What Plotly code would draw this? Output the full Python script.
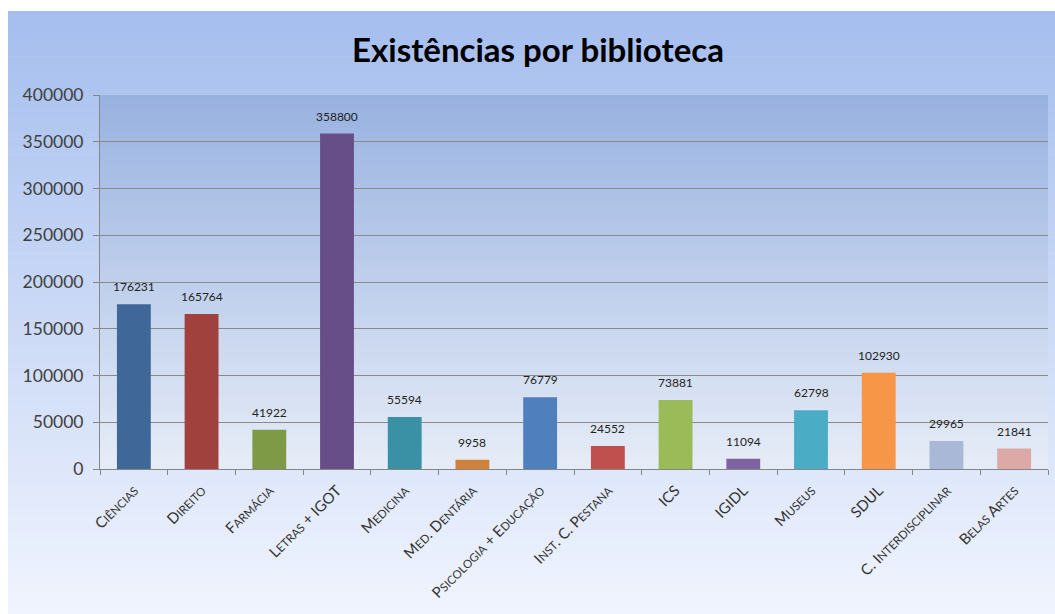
import plotly.graph_objects as go

categories = ["Ciências", "Direito", "Farmácia", "Letras + IGOT", "Medicina",
              "Med. Dentária", "Psicologia + Educação", "Inst. C. Pestana", "ICS",
              "IGIDL", "Museus", "SDUL", "C. Interdisciplinar", "Belas Artes"]
values = [176231, 165764, 41922, 358800, 55594, 9958, 76779, 24552, 73881,
          11094, 62798, 102930, 29965, 21841]
bar_colors = ["#3f6797", "#a0413d", "#7f9a47", "#684e89", "#3a90a5", "#d0823a",
              "#4f80bd", "#c0504d", "#9bbb59", "#7f63a1", "#4bacc6", "#f79646",
              "#a9b8d6", "#dba9a6"]
y_ticks = [0, 50000, 100000, 150000, 200000, 250000, 300000, 350000, 400000]

W, H = 1055, 614
L, R, T, B = 100, 1048, 95, 469  # plot area in px


def small_caps(s, small=11.5):
    out = []
    for ch in s:
        if ch.islower():
            out.append(f"<span style='font-size:{small}px'>{ch.upper()}</span>")
        else:
            out.append(ch)
    return "".join(out)


tick_text = [small_caps(c) for c in categories]


def lerp(c1, c2, t):
    return "rgb(%d,%d,%d)" % tuple(round(a + (b - a) * t) for a, b in zip(c1, c2))


def px2paper_x(px):
    return (px - L) / (R - L)


def px2paper_y(py):
    return (B - py) / (B - T)


shapes = []


def gradient(x0, x1, y0, y1, ctop, cbot, n=80):
    for i in range(n):
        ya = y0 + (y1 - y0) * i / n
        yb = y0 + (y1 - y0) * (i + 1) / n + 0.6
        shapes.append(dict(type="rect", xref="paper", yref="paper", layer="below",
                           x0=px2paper_x(x0), x1=px2paper_x(x1),
                           y0=px2paper_y(yb), y1=px2paper_y(ya),
                           line=dict(width=0), fillcolor=lerp(ctop, cbot, i / (n - 1))))


gradient(8, 1055, 11, 614, (165, 190, 238), (240, 244, 254))
gradient(L, R, T, B, (152, 178, 224), (230, 236, 247))

fig = go.Figure(go.Bar(
    x=categories, y=values, marker=dict(color=bar_colors, line=dict(width=0)),
))

for c, v in zip(categories, values):
    fig.add_annotation(x=c, y=v, text=str(v), showarrow=False, yanchor="bottom",
                       yshift=8, font=dict(family="Lato", size=12, color="#222222"))

fig.update_layout(
    width=W, height=H,
    margin=dict(l=L, r=W - R, t=T, b=H - B),
    paper_bgcolor="white", plot_bgcolor="rgba(0,0,0,0)",
    shapes=shapes,
    bargap=0.5,
    showlegend=False,
    title=dict(text="<b>Existências por biblioteca</b>", x=538 / W, xanchor="center",
               y=1 - 50 / H, yanchor="middle", yref="container",
               font=dict(family="Lato", size=33, color="#000000")),
    xaxis=dict(tickmode="array", tickvals=categories, ticktext=tick_text,
               tickangle=-45, tickson="boundaries", ticks="outside", ticklen=5,
               tickcolor="#868686", showline=True, linecolor="#868686", linewidth=1,
               tickfont=dict(family="Lato", size=15, color="#333333"),
               ticklabelstandoff=6,
               showgrid=False),
    yaxis=dict(range=[0, 400000], tickvals=y_ticks, ticktext=[str(v) for v in y_ticks],
               ticks="outside", ticklen=6, tickcolor="#868686",
               showline=True, linecolor="#868686", linewidth=1,
               showgrid=True, gridcolor="#8a8a8a", gridwidth=1,
               zeroline=False, ticklabelstandoff=6,
               tickfont=dict(family="Lato", size=17.5, color="#404040")),
)

fig.write_html("out.html")
